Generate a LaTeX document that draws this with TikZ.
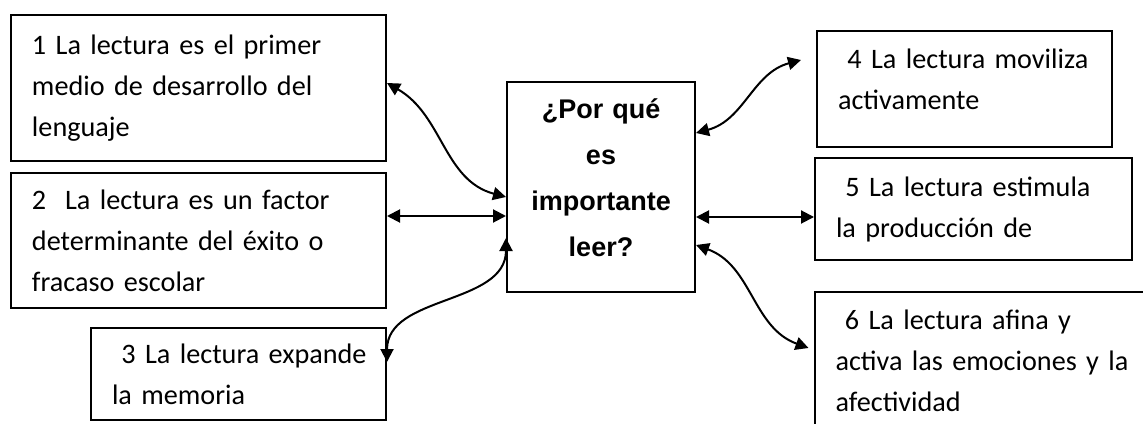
\documentclass[tikz,border=0pt]{standalone}
\usepackage{fontspec}
\setmainfont{Carlito}
\newfontfamily\arialfont{Liberation Sans}
\usetikzlibrary{arrows.meta}
\hyphenpenalty=10000

\begin{document}
\begin{tikzpicture}[x=0.5pt,y=0.5pt,
	caja/.style={draw,line width=1pt,inner xsep=10.5pt,inner ysep=0pt,align=left,font=\fontsize{14.1}{20.5}\selectfont},
	pregunta/.style={draw,line width=1pt,inner xsep=0pt,inner ysep=0pt,text width=94pt,align=center,minimum height=105pt,font=\arialfont\bfseries\fontsize{13.5}{23}\selectfont},
	flecha/.style={line width=1pt,{Triangle[length=6.5pt,width=6.5pt]}-{Triangle[length=6.5pt,width=6.5pt]}}]
		\useasboundingbox (0,0) rectangle (1143,423);
		
		\node[pregunta] (q) at (601,236) {¿Por qué\\es\\importante\\leer?\rule[-9pt]{0pt}{9pt}};
		
		% izquierda
		\node[caja,text width=166.5pt,minimum height=73pt] (b1) at (198.5,335) {1 La lectura es el primer\\medio de desarrollo del\\lenguaje};
		\node[caja,text width=166.5pt,minimum height=67.5pt] (b2) at (198.5,182.5) {2~ La lectura es un factor\\determinante del éxito o\\fracaso escolar};
		\node[caja,text width=126.5pt,minimum height=46pt] (b3) at (238.5,49) {\mbox{~3 La lectura expande}\\la memoria};
		
		% derecha
		\node[caja,text width=126.5pt,minimum height=58pt] (b4) at (964.5,334) {\mbox{~4 La lectura moviliza}\\activamente\rule[-10pt]{0pt}{10pt}};
		\node[caja,text width=137.5pt,minimum height=51pt] (b5) at (973.5,214) {~5 La lectura estimula\\la producción de};
		\node[caja,text width=160pt,minimum height=69pt] (b6) at (995.5,62) {~6 La lectura afina y\\activa las emociones y la\\afectividad};
		
		\draw[flecha] ([yshift=2.5pt]b1.east) to[out=-30,in=165] ([yshift=-5pt]q.west);
		\draw[flecha] ([yshift=12.25pt]b2.east) -- ([yshift=-14.5pt]q.west);
		\draw[flecha] ([yshift=-25.5pt]q.west) to[out=-90,in=90] ([yshift=6pt]b3.east);
		
		\draw[flecha] ([yshift=27pt]q.east) to[out=15,in=195] ([xshift=-7.5pt,yshift=14.5pt]b4.west);
		\draw[flecha] ([yshift=-15pt]q.east) -- ([yshift=-4pt]b5.west);
		\draw[flecha] ([yshift=-29pt]q.east) to[out=-20,in=160] ([xshift=-2.5pt,yshift=6.5pt]b6.west);
	\end{tikzpicture}
\end{document}
